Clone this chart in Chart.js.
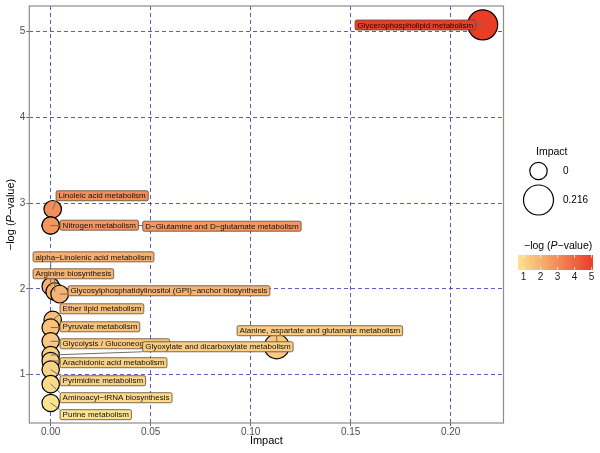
<!DOCTYPE html>
<html>
<head>
<meta charset="utf-8">
<script src="https://cdn.jsdelivr.net/npm/chart.js@4.4.0/dist/chart.umd.min.js"></script>
<style>
  html, body { margin: 0; padding: 0; background: #fff; }
  #wrap { width: 600px; height: 453px; }
</style>
</head>
<body>
<div id="wrap"><canvas id="pathway"></canvas></div>
<script>
const pathways = [
    'Glycerophospholipid metabolism',
    'Linoleic acid metabolism',
    'Nitrogen metabolism',
    'D\u2212Glutamine and D\u2212glutamate metabolism',
    'alpha\u2212Linolenic acid metabolism',
    'Arginine biosynthesis',
    'Glycosylphosphatidylinositol (GPI)\u2212anchor biosynthesis',
    'Ether lipid metabolism',
    'Pyruvate metabolism',
    'Glycolysis / Gluconeogenesis',
    'Alanine, aspartate and glutamate metabolism',
    'Glyoxylate and dicarboxylate metabolism',
    'Arachidonic acid metabolism',
    'Pyrimidine metabolism',
    'Aminoacyl\u2212tRNA biosynthesis',
    'Purine metabolism'
];
const impact  = [0.216, 0.001, 0.0, 0.0, 0.0, 0.002, 0.0045, 0.001, 0.0, 0.0, 0.113, 0.0, 0.0, 0.0, 0.0, 0.0];
const negLogP = [5.08, 2.93, 2.74, 2.74, 2.03, 1.97, 1.94, 1.64, 1.55, 1.39, 1.33, 1.23, 1.16, 1.06, 0.89, 0.67];

// where each repelled label box sits: left edge and vertical centre, in data units
const labelX = [0.1522, 0.0027, 0.0047, 0.046, -0.0088, -0.0088, 0.0087, 0.0047, 0.0047, 0.0047, 0.0932, 0.046, 0.0047, 0.0047, 0.0047, 0.0047];
const labelY = [5.078, 3.087, 2.744, 2.732, 2.375, 2.177, 1.979, 1.769, 1.559, 1.361, 1.513, 1.326, 1.140, 0.930, 0.732, 0.534];

const xTicks = [0, 0.05, 0.10, 0.15, 0.20];
const yTicks = [1, 2, 3, 4, 5];
const sizeBreaks = [0, 0.216];
const colorTicks = [1, 2, 3, 4, 5];

const family = '"Liberation Sans", Arial, sans-serif';
const lowColor = [252, 227, 143];
const highColor = [232, 62, 40];
const pMin = Math.min(...negLogP), pMax = Math.max(...negLogP);
const impactMax = Math.max(...impact);

function fillFor(v) {
    const t = (v - pMin) / (pMax - pMin);
    const c = lowColor.map((l, k) => Math.round(l + (highColor[k] - l) * t));
    return 'rgb(' + c.join(',') + ')';
}
// area scaled like ggplot's scale_size
function radiusFor(v) {
    const r0 = 8.7, r1 = 15;
    return Math.sqrt(r0 * r0 + (r1 * r1 - r0 * r0) * v / impactMax);
}

const panelBorder = {
    id: 'panelBorder',
    beforeDatasetsDraw(chart) {
        const { ctx, chartArea: { left, top, width, height } } = chart;
        ctx.save();
        ctx.strokeStyle = '#8c8c8c';
        ctx.lineWidth = 1.2;
        ctx.strokeRect(left, top, width, height);
        ctx.restore();
    }
};

const repelLabels = {
    id: 'repelLabels',
    afterDatasetsDraw(chart) {
        const { ctx, scales: { x, y } } = chart;
        ctx.save();
        ctx.font = '8px ' + family;
        const boxes = pathways.map((name, i) => {
            const left = x.getPixelForValue(labelX[i]);
            const cy = y.getPixelForValue(labelY[i]);
            return { left: left, top: cy - 5, w: ctx.measureText(name).width + 5, h: 10, cy: cy };
        });
        // segments go underneath all labels
        ctx.strokeStyle = '#6e6e6e';
        ctx.lineWidth = 1;
        boxes.forEach((b, i) => {
            const px = x.getPixelForValue(impact[i]);
            const py = y.getPixelForValue(negLogP[i]);
            const nx = Math.min(Math.max(px, b.left), b.left + b.w);
            const ny = Math.min(Math.max(py, b.top), b.top + b.h);
            ctx.beginPath();
            ctx.moveTo(px, py);
            ctx.lineTo(nx, ny);
            ctx.stroke();
        });
        boxes.forEach((b, i) => {
            ctx.beginPath();
            ctx.roundRect(b.left, b.top, b.w, b.h, 1.5);
            ctx.fillStyle = fillFor(negLogP[i]);
            ctx.fill();
            ctx.strokeStyle = '#5a4a3a';
            ctx.lineWidth = 0.8;
            ctx.stroke();
            ctx.fillStyle = '#111';
            ctx.textBaseline = 'middle';
            ctx.fillText(pathways[i], b.left + 2.5, b.cy + 0.5);
        });
        ctx.restore();
    }
};

// y title with italic P, plus the size and colour legends
const sideText = {
    id: 'sideText',
    afterDraw(chart) {
        const { ctx, chartArea } = chart;
        ctx.save();
        // y axis title
        const parts = [['\u2212log (', ''], ['P', 'italic '], ['\u2212value)', '']];
        ctx.translate(11, (chartArea.top + chartArea.bottom) / 2);
        ctx.rotate(-Math.PI / 2);
        let total = 0;
        parts.forEach(p => { ctx.font = p[1] + '11px ' + family; total += ctx.measureText(p[0]).width; });
        let cx = -total / 2;
        ctx.fillStyle = '#000';
        ctx.textBaseline = 'middle';
        parts.forEach(p => {
            ctx.font = p[1] + '11px ' + family;
            ctx.fillText(p[0], cx, 0);
            cx += ctx.measureText(p[0]).width;
        });
        ctx.restore();

        ctx.save();
        ctx.fillStyle = '#000';
        ctx.textBaseline = 'middle';
        ctx.font = '10.5px ' + family;
        ctx.fillText('Impact', 536, 152);
        const keyY = [171, 200];
        sizeBreaks.forEach((v, i) => {
            ctx.beginPath();
            ctx.arc(538.5, keyY[i], radiusFor(v), 0, Math.PI * 2);
            ctx.strokeStyle = '#000';
            ctx.lineWidth = 1.2;
            ctx.stroke();
            ctx.font = '10px ' + family;
            ctx.fillText(v === 0 ? '0' : String(v), 563, keyY[i]);
        });

        // colour bar
        const parts2 = [['\u2212log (', ''], ['P', 'italic '], ['\u2212value)', '']];
        let lx = 524;
        parts2.forEach(p => {
            ctx.font = p[1] + '10.5px ' + family;
            ctx.fillText(p[0], lx, 246);
            lx += ctx.measureText(p[0]).width;
        });
        const barL = 518, barR = 593, barT = 255, barB = 270;
        const grad = ctx.createLinearGradient(barL, 0, barR, 0);
        grad.addColorStop(0, fillFor(pMin));
        grad.addColorStop(0.5, fillFor((pMin + pMax) / 2));
        grad.addColorStop(1, fillFor(pMax));
        ctx.fillStyle = grad;
        ctx.fillRect(barL, barT, barR - barL, barB - barT);
        ctx.strokeStyle = 'rgba(255,255,255,0.9)';
        ctx.lineWidth = 0.8;
        ctx.font = '10px ' + family;
        ctx.textAlign = 'center';
        colorTicks.forEach(v => {
            const tx = barL + (v - pMin) / (pMax - pMin) * (barR - barL);
            ctx.beginPath();
            ctx.moveTo(tx, barT); ctx.lineTo(tx, barT + 3);
            ctx.moveTo(tx, barB); ctx.lineTo(tx, barB - 3);
            ctx.stroke();
            ctx.fillStyle = '#222';
            ctx.fillText(String(v), tx, 277);
        });
        ctx.restore();
    }
};

const gridBlue = 'rgba(64, 64, 190, 0.85)';
const ctx = document.getElementById('pathway');
new Chart(ctx, {
    type: 'bubble',
    data: {
        datasets: [{
            data: impact.map((v, i) => ({ x: v, y: negLogP[i], r: radiusFor(v) })),
            backgroundColor: negLogP.map(fillFor),
            borderColor: '#000',
            borderWidth: 1.2,
            clip: false
        }]
    },
    options: {
        responsive: true,
        maintainAspectRatio: false,
        animation: false,
        events: [],
        layout: { autoPadding: false, padding: { top: 6, right: 96.5, left: 0, bottom: 0 } },
        scales: {
            x: {
                type: 'linear',
                min: -0.0107,
                max: 0.2264,
                afterBuildTicks: s => { s.ticks = xTicks.map(v => ({ value: v })); },
                afterFit: s => { s.height = 30; s.paddingLeft = 0; s.paddingRight = 0; },
                grid: { color: gridBlue, lineWidth: 1, tickColor: '#666', tickLength: 3, tickWidth: 1 },
                border: { display: false, dash: [4, 3] },
                ticks: {
                    callback: v => v.toFixed(2),
                    font: { size: 10, family: family },
                    color: '#4d4d4d',
                    padding: 0,
                    maxRotation: 0
                },
                title: {
                    display: true,
                    text: 'Impact',
                    color: '#000',
                    font: { size: 11, family: family },
                    padding: { top: 0, bottom: 5 }
                }
            },
            y: {
                type: 'linear',
                min: 0.437,
                max: 5.30,
                afterBuildTicks: s => { s.ticks = yTicks.map(v => ({ value: v })); },
                afterFit: s => { s.width = 29.3; s.paddingTop = 0; s.paddingBottom = 0; },
                grid: { color: gridBlue, lineWidth: 1, tickColor: '#666', tickLength: 3, tickWidth: 1 },
                border: { display: false, dash: [4, 3] },
                ticks: {
                    font: { size: 10, family: family },
                    color: '#4d4d4d',
                    padding: 1
                }
            }
        },
        plugins: {
            legend: { display: false },
            tooltip: { enabled: false }
        }
    },
    plugins: [panelBorder, repelLabels, sideText]
});
</script>
</body>
</html>
